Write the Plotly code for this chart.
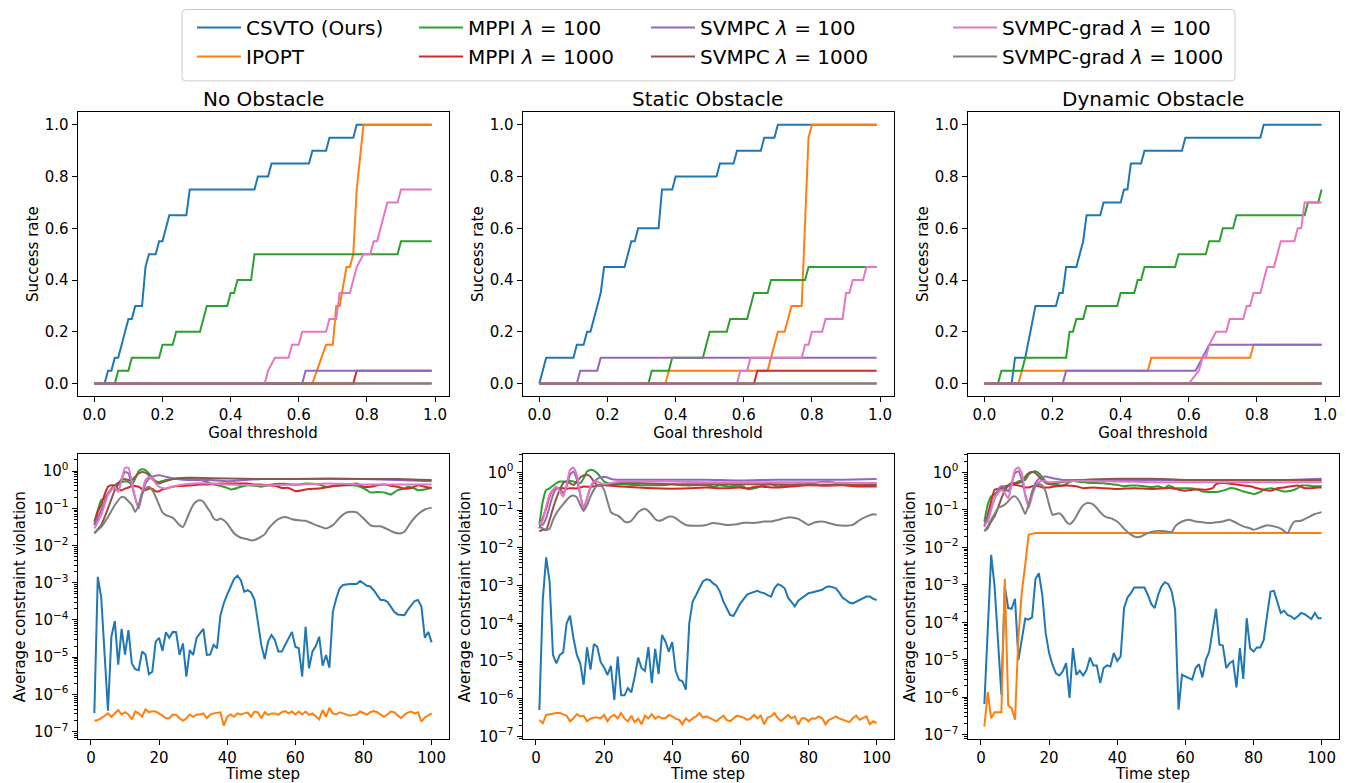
import plotly.graph_objects as go

FONT = "DejaVu Sans"
# the page body keeps an 8 px margin, so the figure is drawn 8 px in from the corner
PAGE_OFF = 8
W, H = 1340, 775

names = ["CSVTO (Ours)", "IPOPT", "MPPI <i>λ</i> = 100", "MPPI <i>λ</i> = 1000",
         "SVMPC <i>λ</i> = 100", "SVMPC <i>λ</i> = 1000",
         "SVMPC-grad <i>λ</i> = 100", "SVMPC-grad <i>λ</i> = 1000"]
colors = ["#1f77b4", "#ff7f0e", "#2ca02c", "#d62728",
          "#9467bd", "#8c564b", "#e377c2", "#7f7f7f"]
legend_slot = ["legend", "legend", "legend2", "legend2",
               "legend3", "legend3", "legend4", "legend4"]
panel_titles = ["No Obstacle", "Static Obstacle", "Dynamic Obstacle"]

# ---------------- success rate vs goal threshold (breakpoints)
# No obstacle
no_csvto_x = [0, 0.03, 0.04, 0.05, 0.06, 0.07, 0.1, 0.11, 0.12, 0.14, 0.15, 0.16, 0.18, 0.19, 0.2,
              0.22, 0.27, 0.28, 0.47, 0.48, 0.51, 0.52, 0.63, 0.64, 0.68, 0.69, 0.76, 0.77, 0.99]
no_csvto_y = [0, 0, 0.05, 0.05, 0.1, 0.1, 0.25, 0.25, 0.3, 0.3, 0.45, 0.5, 0.5, 0.55, 0.55,
              0.65, 0.65, 0.75, 0.75, 0.8, 0.8, 0.85, 0.85, 0.9, 0.9, 0.95, 0.95, 1.0, 1.0]
no_ipopt_x = [0, 0.64, 0.68, 0.7, 0.71, 0.72, 0.74, 0.75, 0.76, 0.77, 0.79, 0.99]
no_ipopt_y = [0, 0, 0.15, 0.15, 0.3, 0.3, 0.45, 0.45, 0.5, 0.75, 1.0, 1.0]
no_mppi100_x = [0, 0.06, 0.07, 0.1, 0.11, 0.19, 0.2, 0.23, 0.24, 0.31, 0.33, 0.39, 0.4, 0.41,
                0.42, 0.46, 0.47, 0.89, 0.9, 0.99]
no_mppi100_y = [0, 0, 0.05, 0.05, 0.1, 0.1, 0.15, 0.15, 0.2, 0.2, 0.3, 0.3, 0.35, 0.35,
                0.4, 0.4, 0.5, 0.5, 0.55, 0.55]
no_mppi1000_x = [0, 0.76, 0.77, 0.99]
no_mppi1000_y = [0, 0, 0.05, 0.05]
no_svmpc100_x = [0, 0.61, 0.62, 0.99]
no_svmpc100_y = [0, 0, 0.05, 0.05]
no_svmpc1000_x = [0, 0.99]
no_svmpc1000_y = [0, 0]
no_grad100_x = [0, 0.5, 0.51, 0.53, 0.57, 0.58, 0.6, 0.61, 0.68, 0.69, 0.71, 0.72, 0.75, 0.77,
                0.79, 0.81, 0.82, 0.83, 0.86, 0.89, 0.9, 0.99]
no_grad100_y = [0, 0, 0.05, 0.1, 0.1, 0.15, 0.15, 0.2, 0.2, 0.25, 0.25, 0.35, 0.35, 0.45,
                0.5, 0.5, 0.55, 0.55, 0.7, 0.7, 0.75, 0.75]
no_grad1000_x = [0, 0.99]
no_grad1000_y = [0, 0]

# Static obstacle
st_csvto_x = [0, 0.02, 0.1, 0.11, 0.13, 0.14, 0.15, 0.18, 0.19, 0.25, 0.27, 0.28, 0.29, 0.35,
              0.36, 0.39, 0.4, 0.52, 0.53, 0.57, 0.58, 0.65, 0.66, 0.69, 0.7, 0.99]
st_csvto_y = [0, 0.1, 0.1, 0.15, 0.15, 0.2, 0.2, 0.35, 0.45, 0.45, 0.55, 0.55, 0.6, 0.6,
              0.75, 0.75, 0.8, 0.8, 0.85, 0.85, 0.9, 0.9, 0.95, 0.95, 1.0, 1.0]
st_ipopt_x = [0, 0.37, 0.38, 0.67, 0.7, 0.72, 0.74, 0.77, 0.79, 0.8, 0.99]
st_ipopt_y = [0, 0, 0.05, 0.05, 0.2, 0.2, 0.3, 0.3, 0.95, 1.0, 1.0]
st_mppi100_x = [0, 0.32, 0.33, 0.38, 0.39, 0.48, 0.5, 0.55, 0.56, 0.61, 0.63, 0.67, 0.68,
                0.78, 0.79, 0.99]
st_mppi100_y = [0, 0, 0.05, 0.05, 0.1, 0.1, 0.2, 0.2, 0.25, 0.25, 0.35, 0.35, 0.4,
                0.4, 0.45, 0.45]
st_mppi1000_x = [0, 0.63, 0.64, 0.99]
st_mppi1000_y = [0, 0, 0.05, 0.05]
st_svmpc100_x = [0, 0.11, 0.12, 0.17, 0.18, 0.99]
st_svmpc100_y = [0, 0, 0.05, 0.05, 0.1, 0.1]
st_svmpc1000_x = [0, 0.99]
st_svmpc1000_y = [0, 0]
st_grad100_x = [0, 0.58, 0.59, 0.61, 0.62, 0.77, 0.78, 0.79, 0.8, 0.83, 0.84, 0.89, 0.9,
                0.91, 0.92, 0.95, 0.96, 0.99]
st_grad100_y = [0, 0, 0.05, 0.05, 0.1, 0.1, 0.15, 0.15, 0.2, 0.2, 0.25, 0.25, 0.35,
                0.35, 0.4, 0.4, 0.45, 0.45]
st_grad1000_x = [0, 0.99]
st_grad1000_y = [0, 0]

# Dynamic obstacle
dy_csvto_x = [0, 0.08, 0.09, 0.12, 0.15, 0.21, 0.22, 0.23, 0.24, 0.27, 0.29, 0.3, 0.34, 0.35,
              0.4, 0.41, 0.42, 0.43, 0.46, 0.47, 0.58, 0.59, 0.81, 0.82, 0.99]
dy_csvto_y = [0, 0, 0.1, 0.1, 0.3, 0.3, 0.35, 0.35, 0.45, 0.45, 0.55, 0.65, 0.65, 0.7,
              0.7, 0.75, 0.75, 0.85, 0.85, 0.9, 0.9, 0.95, 0.95, 1.0, 1.0]
dy_ipopt_x = [0, 0.1, 0.11, 0.48, 0.49, 0.78, 0.79, 0.99]
dy_ipopt_y = [0, 0, 0.05, 0.05, 0.1, 0.1, 0.15, 0.15]
dy_mppi100_x = [0, 0.04, 0.05, 0.11, 0.12, 0.24, 0.25, 0.26, 0.27, 0.29, 0.3, 0.39, 0.4, 0.44,
                0.45, 0.46, 0.47, 0.56, 0.57, 0.65, 0.66, 0.69, 0.7, 0.73, 0.74, 0.94, 0.95,
                0.98, 0.99]
dy_mppi100_y = [0, 0, 0.05, 0.05, 0.1, 0.1, 0.2, 0.2, 0.25, 0.25, 0.3, 0.3, 0.35, 0.35,
                0.4, 0.4, 0.45, 0.45, 0.5, 0.5, 0.55, 0.55, 0.6, 0.6, 0.65, 0.65, 0.7,
                0.7, 0.75]
dy_mppi1000_x = [0, 0.99]
dy_mppi1000_y = [0, 0]
dy_svmpc100_x = [0, 0.23, 0.24, 0.62, 0.64, 0.66, 0.99]
dy_svmpc100_y = [0, 0, 0.05, 0.05, 0.1, 0.15, 0.15]
dy_svmpc1000_x = [0, 0.99]
dy_svmpc1000_y = [0, 0]
dy_grad100_x = [0, 0.6, 0.63, 0.64, 0.65, 0.66, 0.68, 0.71, 0.72, 0.76, 0.77, 0.78, 0.79, 0.81,
                0.83, 0.85, 0.87, 0.91, 0.92, 0.93, 0.94, 0.99]
dy_grad100_y = [0, 0, 0.05, 0.1, 0.1, 0.15, 0.2, 0.2, 0.25, 0.25, 0.3, 0.3, 0.35, 0.35,
                0.45, 0.45, 0.55, 0.55, 0.6, 0.6, 0.7, 0.7]
dy_grad1000_x = [0, 0.99]
dy_grad1000_y = [0, 0]

# ---------------- average constraint violation (log10 values)
steps = list(range(1, 101))

v_no_csvto = [-6.5, -2.84, -3.38, -4.94, -6.44, -4.45, -4.03, -5.2, -4.24, -4.93,
              -4.27, -5.17, -5.32, -5.35, -4.85, -4.93, -5.46, -5.39, -4.58, -4.48,
              -4.83, -4.33, -4.48, -4.32, -4.33, -4.94, -4.63, -5.52, -4.81, -4.94,
              -4.48, -4.36, -4.24, -4.94, -4.93, -4.67, -4.76, -3.87, -3.55, -3.31,
              -3.11, -2.9, -2.81, -2.93, -3.24, -3.2, -3.26, -3.46, -4.05, -4.67,
              -5.05, -4.58, -4.4, -4.54, -4.85, -4.85, -4.67, -4.5, -4.32, -4.72,
              -4.76, -5.52, -4.18, -5.3, -4.85, -4.7, -4.45, -5.23, -4.94, -5.28,
              -3.78, -3.42, -3.15, -3.06, -3.04, -3.03, -3.03, -3.03, -2.95, -3.02,
              -3.08, -3.1, -3.2, -3.33, -3.46, -3.46, -3.51, -3.64, -3.78, -3.85,
              -3.85, -3.87, -3.73, -3.6, -3.49, -3.46, -3.64, -4.48, -4.32, -4.6]
v_no_ipopt = [-6.71, -6.69, -6.64, -6.57, -6.51, -6.6, -6.51, -6.42, -6.54, -6.48,
              -6.54, -6.67, -6.46, -6.51, -6.6, -6.4, -6.48, -6.45, -6.46, -6.51,
              -6.57, -6.64, -6.64, -6.54, -6.55, -6.64, -6.71, -6.64, -6.54, -6.6,
              -6.54, -6.54, -6.51, -6.64, -6.54, -6.51, -6.49, -6.48, -6.84, -6.6,
              -6.54, -6.6, -6.51, -6.54, -6.51, -6.49, -6.6, -6.46, -6.48, -6.64,
              -6.48, -6.55, -6.51, -6.51, -6.55, -6.48, -6.45, -6.51, -6.46, -6.54,
              -6.46, -6.54, -6.46, -6.55, -6.51, -6.6, -6.67, -6.42, -6.6, -6.36,
              -6.51, -6.54, -6.48, -6.51, -6.55, -6.57, -6.55, -6.54, -6.46, -6.51,
              -6.54, -6.48, -6.45, -6.48, -6.54, -6.6, -6.54, -6.46, -6.48, -6.57,
              -6.64, -6.55, -6.49, -6.46, -6.51, -6.48, -6.73, -6.62, -6.57, -6.51]
t_no_mppi100 = [1, 2, 3, 4, 5, 6, 7, 8, 9, 10, 11, 12, 13, 14, 15, 16, 17, 18, 19, 20, 22, 24,
                26, 28, 30, 32, 34, 36, 38, 40, 41, 42, 44, 46, 48, 50, 53, 55, 57, 59, 61,
                63, 65, 67, 69, 71, 73, 75, 77, 79, 81, 82, 84, 86, 87, 88, 90, 92, 93, 95,
                96, 98, 100]
v_no_mppi100 = [-1.36, -1.05, -0.78, -0.72, -0.6, -0.47, -0.38, -0.31, -0.3, -0.27, -0.29,
                -0.36, -0.2, 0.0, 0.05, 0.03, -0.06, -0.18, -0.27, -0.29, -0.24, -0.21,
                -0.2, -0.2, -0.21, -0.24, -0.29, -0.36, -0.39, -0.45, -0.49, -0.48, -0.42,
                -0.38, -0.39, -0.42, -0.36, -0.34, -0.34, -0.36, -0.36, -0.33, -0.34,
                -0.36, -0.42, -0.4, -0.38, -0.38, -0.38, -0.42, -0.51, -0.57, -0.56,
                -0.57, -0.6, -0.63, -0.51, -0.47, -0.42, -0.47, -0.51, -0.49, -0.45]
t_no_mppi1000 = [1, 2, 3, 4, 5, 6, 7, 8, 9, 10, 11, 12, 14, 15, 16, 17, 18, 19, 20, 21, 22, 24,
                 26, 28, 30, 32, 34, 36, 38, 40, 42, 44, 46, 48, 50, 52, 54, 56, 58, 60, 62,
                 64, 66, 68, 70, 72, 74, 76, 78, 80, 82, 84, 86, 88, 90, 92, 94, 96, 98, 100]
v_no_mppi1000 = [-1.45, -1.09, -0.91, -0.63, -0.42, -0.38, -0.39, -0.48, -0.51, -0.47, -0.44,
                 -0.39, -0.42, -0.48, -0.51, -0.47, -0.48, -0.54, -0.54, -0.49, -0.47,
                 -0.42, -0.4, -0.39, -0.38, -0.36, -0.36, -0.34, -0.33, -0.33, -0.33,
                 -0.33, -0.33, -0.36, -0.36, -0.38, -0.39, -0.45, -0.45, -0.54, -0.51,
                 -0.48, -0.47, -0.45, -0.42, -0.39, -0.38, -0.36, -0.33, -0.42, -0.42,
                 -0.38, -0.36, -0.39, -0.42, -0.47, -0.45, -0.38, -0.42, -0.45]
t_no_svmpc100 = [1, 3, 5, 7, 8, 9, 10, 11, 12, 13, 14, 15, 16, 17, 18, 20, 22, 25, 30, 35, 40,
                 50, 60, 70, 80, 90, 100]
v_no_svmpc100 = [-1.45, -1.05, -0.6, -0.42, -0.38, -0.2, -0.02, -0.06, -0.38, -0.73, -1.0,
                 -0.64, -0.33, -0.21, -0.15, -0.11, -0.15, -0.21, -0.24, -0.24, -0.27,
                 -0.21, -0.21, -0.21, -0.21, -0.24, -0.27]
t_no_svmpc1000 = [1, 3, 5, 7, 8, 9, 10, 11, 12, 13, 14, 15, 16, 17, 18, 19, 20, 21, 23, 25, 28,
                  30, 40, 50, 60, 70, 80, 90, 100]
v_no_svmpc1000 = [-1.67, -1.45, -1.0, -0.51, -0.33, -0.24, -0.21, -0.24, -0.24, -0.15, -0.06,
                  -0.02, -0.04, -0.11, -0.21, -0.29, -0.33, -0.3, -0.24, -0.2, -0.18, -0.18,
                  -0.2, -0.21, -0.21, -0.2, -0.21, -0.21, -0.24]
t_no_grad100 = [1, 3, 5, 7, 8, 9, 10, 11, 12, 13, 14, 15, 16, 17, 18, 19, 20, 22, 25, 30, 35,
                40, 50, 60, 70, 80, 90, 100]
v_no_grad100 = [-1.54, -1.18, -0.64, -0.42, -0.56, -0.24, 0.09, 0.09, -0.29, -0.73, -0.96,
                -0.56, -0.24, -0.15, -0.2, -0.33, -0.42, -0.47, -0.39, -0.33, -0.33, -0.36,
                -0.38, -0.36, -0.33, -0.36, -0.36, -0.36]
t_no_grad1000 = [1, 3, 5, 7, 9, 10, 12, 13, 14, 15, 16, 17, 18, 19, 20, 21, 22, 24, 26, 27, 29,
                 30, 31, 32, 33, 34, 35, 36, 37, 38, 39, 40, 41, 42, 43, 44, 46, 47, 48, 49,
                 50, 51, 52, 53, 55, 57, 59, 61, 63, 65, 67, 69, 71, 73, 75, 77, 78, 80, 82,
                 83, 85, 87, 89, 91, 92, 94, 96, 98, 100]
v_no_grad1000 = [-1.65, -1.5, -1.23, -0.91, -0.69, -0.72, -0.91, -1.09, -0.91, -0.6, -0.47,
                 -0.42, -0.51, -0.69, -0.91, -1.11, -1.18, -1.25, -1.45, -1.5, -1.09, -0.91,
                 -0.81, -0.78, -0.82, -0.96, -1.09, -1.27, -1.32, -1.27, -1.32, -1.41,
                 -1.54, -1.67, -1.74, -1.79, -1.83, -1.86, -1.85, -1.81, -1.76, -1.7,
                 -1.56, -1.45, -1.29, -1.23, -1.29, -1.32, -1.33, -1.41, -1.48, -1.54,
                 -1.45, -1.25, -1.11, -1.09, -1.11, -1.27, -1.45, -1.48, -1.48, -1.56,
                 -1.65, -1.67, -1.63, -1.36, -1.16, -1.03, -0.98]

v_st_csvto = [-6.3, -3.38, -2.25, -2.89, -4.84, -5.06, -4.84, -4.77, -4.0, -3.8,
              -4.39, -4.84, -5.06, -5.63, -4.64, -5.23, -4.55, -4.62, -5.03, -5.17,
              -5.37, -5.13, -6.03, -4.88, -5.91, -5.91, -5.72, -5.83, -5.41, -4.91,
              -5.19, -5.26, -4.63, -5.59, -4.68, -5.35, -4.31, -4.48, -4.75, -4.5,
              -5.26, -5.5, -5.54, -5.76, -4.0, -3.42, -3.25, -3.05, -2.89, -2.83,
              -2.85, -2.94, -3.0, -3.16, -3.42, -3.6, -3.78, -3.8, -3.62, -3.47,
              -3.35, -3.24, -3.2, -3.18, -3.14, -3.18, -3.2, -3.25, -3.29, -3.07,
              -2.96, -3.0, -3.07, -3.32, -3.45, -3.55, -3.4, -3.33, -3.25, -3.2,
              -3.18, -3.16, -3.15, -3.11, -3.05, -3.02, -3.04, -3.07, -3.18, -3.32,
              -3.38, -3.45, -3.47, -3.42, -3.38, -3.33, -3.29, -3.29, -3.35, -3.38]
v_st_ipopt = [-6.56, -6.65, -6.43, -6.41, -6.38, -6.38, -6.38, -6.41, -6.45, -6.6,
              -6.52, -6.41, -6.47, -6.45, -6.6, -6.53, -6.5, -6.5, -6.52, -6.43,
              -6.6, -6.47, -6.43, -6.52, -6.38, -6.53, -6.6, -6.45, -6.62, -6.53,
              -6.68, -6.45, -6.52, -6.41, -6.53, -6.47, -6.52, -6.52, -6.43, -6.47,
              -6.53, -6.56, -6.68, -6.52, -6.6, -6.52, -6.47, -6.38, -6.5, -6.47,
              -6.52, -6.56, -6.6, -6.52, -6.45, -6.56, -6.6, -6.52, -6.45, -6.47,
              -6.5, -6.56, -6.52, -6.43, -6.52, -6.45, -6.68, -6.5, -6.47, -6.38,
              -6.52, -6.59, -6.52, -6.43, -6.52, -6.47, -6.69, -6.52, -6.52, -6.6,
              -6.52, -6.53, -6.47, -6.52, -6.68, -6.56, -6.52, -6.47, -6.52, -6.56,
              -6.6, -6.62, -6.52, -6.45, -6.56, -6.52, -6.47, -6.68, -6.6, -6.65]
t_st_mppi100 = [1, 2, 3, 4, 5, 6, 7, 8, 9, 10, 11, 12, 13, 14, 15, 16, 17, 18, 19, 20, 21, 22,
                24, 26, 28, 30, 32, 34, 36, 38, 40, 42, 44, 46, 48, 50, 52, 54, 57, 59, 61,
                62, 64, 65, 67, 69, 70, 71, 73, 75, 77, 79, 81, 83, 85, 87, 89, 91, 93, 95,
                97, 99, 100]
v_st_mppi100 = [-1.39, -0.77, -0.46, -0.42, -0.35, -0.28, -0.24, -0.24, -0.24, -0.22, -0.24,
                -0.26, -0.28, -0.15, 0.03, 0.07, 0.05, -0.02, -0.13, -0.24, -0.28, -0.31,
                -0.31, -0.31, -0.33, -0.33, -0.34, -0.34, -0.34, -0.33, -0.31, -0.33,
                -0.34, -0.34, -0.33, -0.34, -0.37, -0.34, -0.37, -0.35, -0.37, -0.44,
                -0.42, -0.4, -0.33, -0.31, -0.34, -0.37, -0.34, -0.33, -0.31, -0.31,
                -0.29, -0.26, -0.24, -0.26, -0.31, -0.31, -0.33, -0.34, -0.34, -0.34,
                -0.33]
t_st_mppi1000 = [1, 2, 3, 4, 5, 6, 8, 9, 10, 12, 13, 14, 16, 18, 20, 25, 30, 35, 40, 45, 50,
                 55, 60, 62, 65, 70, 75, 80, 85, 90, 95, 100]
v_st_mppi1000 = [-1.48, -1.21, -0.95, -0.64, -0.46, -0.42, -0.42, -0.43, -0.42, -0.42, -0.4,
                 -0.37, -0.38, -0.35, -0.34, -0.37, -0.4, -0.42, -0.43, -0.42, -0.4, -0.42,
                 -0.4, -0.42, -0.37, -0.4, -0.37, -0.34, -0.35, -0.34, -0.37, -0.37]
t_st_svmpc100 = [1, 2, 3, 4, 5, 6, 7, 8, 9, 10, 11, 12, 13, 14, 15, 16, 17, 18, 19, 20, 21, 22,
                 24, 26, 30, 40, 50, 60, 70, 80, 90, 100]
v_st_svmpc100 = [-1.3, -1.39, -1.21, -0.9, -0.59, -0.42, -0.42, -0.55, -0.37, -0.06, 0.03,
                 -0.19, -0.59, -0.95, -0.68, -0.42, -0.26, -0.17, -0.13, -0.11, -0.13,
                 -0.17, -0.19, -0.19, -0.19, -0.19, -0.19, -0.21, -0.19, -0.19, -0.19,
                 -0.17]
t_st_svmpc1000 = [1, 2, 3, 4, 5, 6, 7, 8, 9, 10, 11, 12, 13, 14, 15, 16, 17, 18, 19, 20, 22,
                  25, 30, 40, 50, 60, 70, 80, 90, 100]
v_st_svmpc1000 = [-1.56, -1.52, -1.52, -1.26, -0.95, -0.68, -0.46, -0.28, -0.24, -0.28, -0.33,
                  -0.24, -0.13, -0.08, -0.06, -0.11, -0.24, -0.33, -0.34, -0.33, -0.31,
                  -0.28, -0.28, -0.31, -0.31, -0.31, -0.31, -0.33, -0.33, -0.33]
t_st_grad100 = [1, 2, 3, 4, 5, 6, 7, 8, 9, 10, 11, 12, 13, 14, 15, 16, 17, 18, 19, 20, 22, 25,
                30, 40, 50, 60, 70, 80, 90, 100]
v_st_grad100 = [-1.39, -1.26, -0.9, -0.59, -0.46, -0.37, -0.5, -0.64, -0.33, 0.07, 0.13,
                -0.06, -0.59, -0.99, -0.68, -0.37, -0.24, -0.24, -0.28, -0.31, -0.28,
                -0.24, -0.24, -0.24, -0.26, -0.26, -0.26, -0.26, -0.27, -0.28]
t_st_grad1000 = [1, 2, 3, 4, 5, 6, 7, 8, 9, 10, 11, 12, 13, 14, 15, 16, 17, 18, 19, 20, 21, 22,
                 23, 24, 25, 26, 27, 28, 29, 30, 31, 32, 33, 34, 35, 36, 37, 38, 39, 40, 41,
                 42, 43, 44, 46, 48, 50, 52, 54, 56, 59, 61, 64, 67, 69, 71, 73, 75, 77, 79,
                 80, 82, 84, 86, 88, 91, 93, 95, 97, 99, 100]
v_st_grad1000 = [-1.43, -1.48, -1.52, -1.49, -1.26, -1.08, -0.95, -0.84, -0.73, -0.64, -0.61,
                 -0.66, -0.86, -1.02, -0.86, -0.64, -0.46, -0.34, -0.34, -0.46, -0.77,
                 -1.05, -1.11, -1.14, -1.21, -1.3, -1.32, -1.28, -1.17, -1.05, -0.99,
                 -0.96, -1.02, -1.12, -1.23, -1.28, -1.26, -1.21, -1.17, -1.17, -1.21,
                 -1.28, -1.34, -1.39, -1.41, -1.41, -1.39, -1.34, -1.36, -1.39, -1.37,
                 -1.33, -1.34, -1.3, -1.3, -1.26, -1.21, -1.19, -1.23, -1.34, -1.39,
                 -1.32, -1.3, -1.34, -1.39, -1.41, -1.39, -1.26, -1.17, -1.11, -1.12]

v_dy_csvto = [-6.18, -3.98, -2.2, -3.04, -4.6, -5.93, -3.04, -3.62, -3.64, -3.37,
              -5.0, -4.47, -3.9, -3.93, -3.87, -2.84, -2.69, -3.27, -4.29, -4.82,
              -5.13, -5.36, -5.42, -5.31, -5.09, -6.02, -4.69, -5.4, -5.29, -5.42,
              -5.27, -4.94, -5.15, -5.15, -5.62, -5.22, -5.15, -5.18, -4.82, -5.03,
              -4.91, -3.62, -3.34, -3.22, -3.07, -3.07, -3.07, -3.07, -3.27, -3.51,
              -3.62, -3.27, -3.04, -2.93, -2.98, -3.18, -3.67, -6.33, -5.4, -5.44,
              -5.47, -5.53, -5.22, -5.12, -5.47, -5.0, -4.78, -4.2, -3.64, -4.6,
              -4.62, -5.22, -5.09, -5.03, -5.74, -4.69, -5.51, -3.89, -4.69, -4.78,
              -4.67, -4.67, -4.47, -3.8, -3.18, -3.16, -3.44, -3.75, -3.69, -3.8,
              -3.84, -3.91, -3.84, -3.75, -3.78, -3.84, -3.91, -3.75, -3.89, -3.89]
t_dy_ipopt = [1, 2, 3, 4, 5, 6, 7, 8, 9, 10, 11, 12, 13, 14, 15, 16, 100]
v_dy_ipopt = [-6.78, -5.86, -6.56, -6.4, -6.4, -6.4, -2.84, -6.22, -6.29, -6.6, -4.38, -3.18,
              -2.46, -1.66, -1.64, -1.62, -1.62]
t_dy_mppi100 = [1, 2, 3, 4, 5, 6, 7, 8, 9, 10, 11, 12, 13, 14, 15, 16, 17, 18, 19, 20, 22, 24,
                25, 26, 27, 28, 30, 32, 34, 36, 38, 40, 42, 44, 46, 48, 50, 52, 54, 55, 57,
                59, 61, 63, 65, 67, 69, 70, 72, 73, 75, 77, 79, 80, 82, 83, 85, 87, 89, 91,
                93, 94, 96, 98, 100]
v_dy_mppi100 = [-1.31, -0.86, -0.64, -0.58, -0.51, -0.46, -0.42, -0.35, -0.31, -0.28, -0.24,
                -0.22, -0.2, -0.06, 0.01, 0.03, -0.02, -0.13, -0.24, -0.31, -0.33, -0.35,
                -0.31, -0.26, -0.22, -0.24, -0.26, -0.28, -0.28, -0.29, -0.31, -0.33,
                -0.37, -0.35, -0.35, -0.37, -0.39, -0.37, -0.42, -0.35, -0.42, -0.42,
                -0.42, -0.44, -0.51, -0.52, -0.52, -0.51, -0.46, -0.42, -0.44, -0.51,
                -0.55, -0.58, -0.52, -0.46, -0.42, -0.46, -0.51, -0.49, -0.42, -0.35,
                -0.35, -0.37, -0.37]
t_dy_mppi1000 = [1, 2, 3, 4, 5, 6, 7, 8, 9, 10, 11, 12, 13, 14, 15, 16, 17, 18, 20, 22, 25, 28,
                 30, 33, 36, 40, 45, 50, 54, 56, 58, 60, 62, 64, 66, 68, 69, 71, 74, 77, 79,
                 81, 83, 85, 87, 89, 91, 93, 95, 97, 99, 100]
v_dy_mppi1000 = [-1.44, -1.13, -0.77, -0.46, -0.44, -0.42, -0.37, -0.35, -0.33, -0.33, -0.35,
                 -0.37, -0.4, -0.4, -0.37, -0.35, -0.37, -0.4, -0.4, -0.37, -0.35, -0.37,
                 -0.42, -0.4, -0.42, -0.44, -0.42, -0.44, -0.42, -0.42, -0.46, -0.49,
                 -0.46, -0.45, -0.46, -0.42, -0.31, -0.28, -0.31, -0.35, -0.37, -0.42,
                 -0.46, -0.49, -0.42, -0.4, -0.37, -0.35, -0.42, -0.42, -0.4, -0.4]
t_dy_svmpc100 = [1, 2, 3, 4, 5, 6, 7, 8, 9, 10, 11, 12, 13, 14, 15, 16, 17, 18, 19, 20, 22, 24,
                 30, 40, 50, 60, 70, 80, 90, 100]
v_dy_svmpc100 = [-1.35, -1.22, -0.95, -0.69, -0.46, -0.37, -0.4, -0.51, -0.28, -0.02, 0.03,
                 -0.2, -0.6, -0.86, -0.51, -0.28, -0.17, -0.12, -0.11, -0.13, -0.17, -0.2,
                 -0.2, -0.2, -0.2, -0.21, -0.21, -0.21, -0.2, -0.17]
t_dy_svmpc1000 = [1, 2, 3, 4, 5, 6, 7, 8, 9, 10, 11, 12, 13, 14, 15, 16, 17, 18, 19, 20, 22,
                  25, 30, 40, 50, 60, 70, 80, 90, 100]
v_dy_svmpc1000 = [-1.56, -1.49, -1.31, -1.17, -0.95, -0.69, -0.49, -0.35, -0.28, -0.28, -0.28,
                  -0.24, -0.11, -0.02, 0.01, -0.02, -0.11, -0.2, -0.28, -0.31, -0.28, -0.24,
                  -0.2, -0.17, -0.17, -0.2, -0.2, -0.2, -0.2, -0.21]
t_dy_grad100 = [1, 2, 3, 4, 5, 6, 7, 8, 9, 10, 11, 12, 13, 14, 15, 16, 17, 18, 19, 20, 25, 30,
                40, 50, 60, 70, 80, 90, 100]
v_dy_grad100 = [-1.4, -1.31, -1.0, -0.69, -0.55, -0.46, -0.55, -0.69, -0.33, 0.07, 0.13,
                -0.02, -0.6, -0.95, -0.64, -0.37, -0.26, -0.22, -0.24, -0.26, -0.24, -0.22,
                -0.24, -0.26, -0.26, -0.26, -0.26, -0.26, -0.26]
t_dy_grad1000 = [1, 2, 3, 4, 5, 6, 7, 8, 9, 10, 11, 12, 13, 14, 15, 16, 17, 18, 19, 20, 21, 22,
                 23, 24, 25, 26, 27, 28, 29, 30, 31, 32, 33, 34, 35, 36, 37, 38, 39, 40, 41,
                 42, 43, 44, 45, 46, 47, 48, 49, 50, 52, 54, 56, 57, 59, 61, 63, 65, 67, 69,
                 71, 73, 75, 77, 79, 80, 82, 84, 86, 88, 90, 91, 92, 94, 96, 98, 100]
v_dy_grad1000 = [-1.57, -1.44, -1.26, -1.11, -0.95, -0.91, -0.86, -0.77, -0.67, -0.64, -0.73,
                 -0.91, -1.11, -0.86, -0.55, -0.37, -0.31, -0.35, -0.51, -0.86, -1.13,
                 -1.11, -1.09, -1.17, -1.31, -1.38, -1.31, -1.17, -1.0, -0.88, -0.82,
                 -0.82, -0.86, -0.95, -1.06, -1.15, -1.2, -1.22, -1.26, -1.31, -1.4, -1.5,
                 -1.59, -1.66, -1.71, -1.73, -1.71, -1.66, -1.62, -1.59, -1.56, -1.57,
                 -1.59, -1.44, -1.31, -1.26, -1.31, -1.33, -1.35, -1.33, -1.31, -1.26,
                 -1.35, -1.44, -1.49, -1.53, -1.47, -1.41, -1.44, -1.5, -1.62, -1.44,
                 -1.31, -1.29, -1.2, -1.11, -1.06]

success = [
    [(no_csvto_x, no_csvto_y), (no_ipopt_x, no_ipopt_y), (no_mppi100_x, no_mppi100_y),
     (no_mppi1000_x, no_mppi1000_y), (no_svmpc100_x, no_svmpc100_y),
     (no_svmpc1000_x, no_svmpc1000_y), (no_grad100_x, no_grad100_y),
     (no_grad1000_x, no_grad1000_y)],
    [(st_csvto_x, st_csvto_y), (st_ipopt_x, st_ipopt_y), (st_mppi100_x, st_mppi100_y),
     (st_mppi1000_x, st_mppi1000_y), (st_svmpc100_x, st_svmpc100_y),
     (st_svmpc1000_x, st_svmpc1000_y), (st_grad100_x, st_grad100_y),
     (st_grad1000_x, st_grad1000_y)],
    [(dy_csvto_x, dy_csvto_y), (dy_ipopt_x, dy_ipopt_y), (dy_mppi100_x, dy_mppi100_y),
     (dy_mppi1000_x, dy_mppi1000_y), (dy_svmpc100_x, dy_svmpc100_y),
     (dy_svmpc1000_x, dy_svmpc1000_y), (dy_grad100_x, dy_grad100_y),
     (dy_grad1000_x, dy_grad1000_y)],
]
violation = [
    [(steps, v_no_csvto), (steps, v_no_ipopt), (t_no_mppi100, v_no_mppi100),
     (t_no_mppi1000, v_no_mppi1000), (t_no_svmpc100, v_no_svmpc100),
     (t_no_svmpc1000, v_no_svmpc1000), (t_no_grad100, v_no_grad100),
     (t_no_grad1000, v_no_grad1000)],
    [(steps, v_st_csvto), (steps, v_st_ipopt), (t_st_mppi100, v_st_mppi100),
     (t_st_mppi1000, v_st_mppi1000), (t_st_svmpc100, v_st_svmpc100),
     (t_st_svmpc1000, v_st_svmpc1000), (t_st_grad100, v_st_grad100),
     (t_st_grad1000, v_st_grad1000)],
    [(steps, v_dy_csvto), (t_dy_ipopt, v_dy_ipopt), (t_dy_mppi100, v_dy_mppi100),
     (t_dy_mppi1000, v_dy_mppi1000), (t_dy_svmpc100, v_dy_svmpc100),
     (t_dy_svmpc1000, v_dy_svmpc1000), (t_dy_grad100, v_dy_grad100),
     (t_dy_grad1000, v_dy_grad1000)],
]
viol_ranges = [[-7.2, 0.45], [-7.07, 0.48], [-7.115, 0.48]]

# ---------------- layout helpers (page-pixel boxes of the six axes)
col_px = [(77.5, 448.5), (522.5, 893.5), (967.5, 1338.5)]
top_px = (111, 396)
bot_px = (454, 739)


def fx(p):
    return (p - PAGE_OFF) / W


def fy(p):
    return 1 - (p - PAGE_OFF) / H


axis_common = dict(
    showline=True, linecolor="black", linewidth=1, mirror=True,
    ticks="outside", ticklen=5, tickwidth=1, tickcolor="black",
    showgrid=False, zeroline=False, automargin=False,
    tickfont=dict(family=FONT, size=15, color="black"),
)
title_font = dict(family=FONT, size=15, color="black")

fig = go.Figure()
layout = {}

for c in range(3):
    top = c + 1
    bot = c + 4
    for k in range(8):
        x, y = success[c][k]
        fig.add_trace(go.Scatter(
            x=x, y=y, mode="lines", name=names[k],
            line=dict(color=colors[k], width=2),
            xaxis=f"x{top}", yaxis=f"y{top}",
            legend=legend_slot[k], showlegend=(c == 0), hoverinfo="skip",
        ))
    for k in range(8):
        t, v = violation[c][k]
        smooth = k >= 2
        fig.add_trace(go.Scatter(
            x=t, y=[10 ** e for e in v], mode="lines", name=names[k],
            line=dict(color=colors[k], width=2,
                      shape="spline" if smooth else "linear",
                      smoothing=0.5 if smooth else None),
            xaxis=f"x{bot}", yaxis=f"y{bot}",
            legend=legend_slot[k], showlegend=False, hoverinfo="skip",
        ))

    dom_x = [fx(col_px[c][0]), fx(col_px[c][1])]
    layout[f"xaxis{top}"] = dict(
        axis_common, domain=dom_x, anchor=f"y{top}", range=[-0.0495, 1.0395],
        tickvals=[0, 0.2, 0.4, 0.6, 0.8, 1.0],
        ticktext=["0.0", "0.2", "0.4", "0.6", "0.8", "1.0"],
        title=dict(text="Goal threshold", font=title_font, standoff=3),
    )
    layout[f"yaxis{top}"] = dict(
        axis_common, domain=[fy(top_px[1]), fy(top_px[0])], anchor=f"x{top}",
        range=[-0.05, 1.05], tickvals=[0, 0.2, 0.4, 0.6, 0.8, 1.0],
        ticktext=["0.0", "0.2", "0.4", "0.6", "0.8", "1.0"],
        title=dict(text="Success rate", font=title_font, standoff=2),
    )
    layout[f"xaxis{bot}"] = dict(
        axis_common, domain=dom_x, anchor=f"y{bot}", range=[-3.95, 104.95],
        tickvals=[0, 20, 40, 60, 80, 100],
        title=dict(text="Time step", font=title_font, standoff=3),
    )
    layout[f"yaxis{bot}"] = dict(
        axis_common, type="log", domain=[fy(bot_px[1]), fy(bot_px[0])],
        anchor=f"x{bot}", range=viol_ranges[c],
        tickvals=[10 ** e for e in range(-7, 1)],
        ticktext=[f"10<sup>{'−' + str(-e) if e < 0 else e}</sup>" for e in range(-7, 1)],
        minor=dict(ticks="outside", ticklen=3, tickwidth=0.8, tickcolor="black",
                   tickvals=[m * 10 ** e for e in range(-8, 1) for m in range(2, 10)]),
        title=dict(text="Average constraint violation", font=title_font, standoff=4),
    )

annotations = []
for c in range(3):
    annotations.append(dict(
        text=panel_titles[c], xref="paper", yref="paper",
        x=fx((col_px[c][0] + col_px[c][1]) / 2), y=fy(98),
        xanchor="center", yanchor="middle", showarrow=False,
        font=dict(family=FONT, size=20, color="black"),
    ))

# legend frame with rounded corners
x0, x1, y0, y1, r = 182, 1235, 8.5, 80, 4
frame_path = (
    f"M{fx(x0 + r)},{fy(y0)} L{fx(x1 - r)},{fy(y0)} Q{fx(x1)},{fy(y0)} {fx(x1)},{fy(y0 + r)} "
    f"L{fx(x1)},{fy(y1 - r)} Q{fx(x1)},{fy(y1)} {fx(x1 - r)},{fy(y1)} "
    f"L{fx(x0 + r)},{fy(y1)} Q{fx(x0)},{fy(y1)} {fx(x0)},{fy(y1 - r)} "
    f"L{fx(x0)},{fy(y0 + r)} Q{fx(x0)},{fy(y0)} {fx(x0 + r)},{fy(y0)} Z"
)
shapes = [dict(type="path", path=frame_path, xref="paper", yref="paper",
               line=dict(color="#cccccc", width=1), fillcolor="white", layer="below")]

legend_cols_px = [192, 414, 646, 948]
legend_common = dict(
    orientation="v", xanchor="left", yanchor="top", y=fy(7),
    font=dict(family=FONT, size=20, color="black"),
    bgcolor="rgba(0,0,0,0)", borderwidth=0, itemwidth=44,
    tracegroupgap=0,
)
for i, key in enumerate(["legend", "legend2", "legend3", "legend4"]):
    layout[key] = dict(legend_common, x=fx(legend_cols_px[i]))

fig.update_layout(
    width=W, height=H,
    template="none",
    paper_bgcolor="white", plot_bgcolor="white",
    margin=dict(l=0, r=0, t=0, b=0),
    font=dict(family=FONT, size=15, color="black"),
    annotations=annotations,
    shapes=shapes,
    **layout,
)

fig.write_html("out.html")
